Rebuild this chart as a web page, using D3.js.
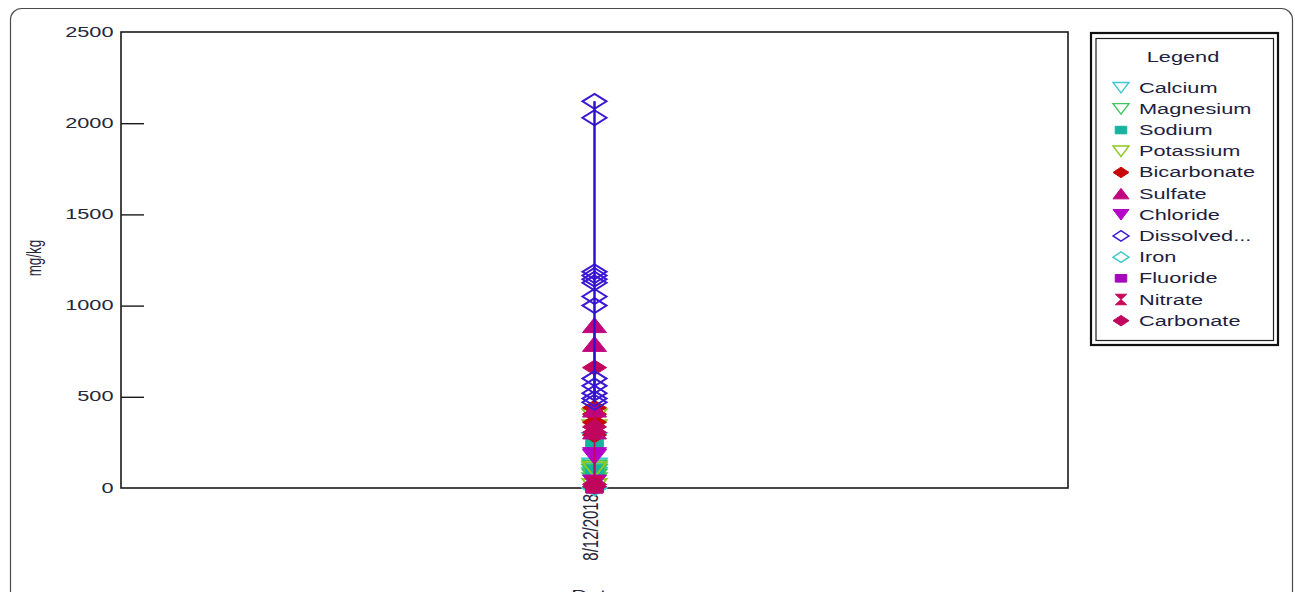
<!DOCTYPE html>
<html>
<head>
<meta charset="utf-8">
<script src="https://cdn.jsdelivr.net/npm/d3@7/dist/d3.min.js"></script>
<style>
  html, body { margin: 0; padding: 0; background: #fff; }
  svg { display: block; }
  text { font-family: "Liberation Sans", Arial, sans-serif; }
</style>
</head>
<body>
<svg id="chart" width="1295" height="592"></svg>
<script>
// Sample date and axis ticks
const sampleDates = ["8/12/2018"];
const yTicks = [0, 500, 1000, 1500, 2000, 2500];

// Parameter names in legend order
const seriesNames = ["Calcium", "Magnesium", "Sodium", "Potassium", "Bicarbonate", "Sulfate",
  "Chloride", "Dissolved...", "Iron", "Fluoride", "Nitrate", "Carbonate"];

// Measured concentrations (mg/kg) for each sample taken on that date
const calcium     = [260, 120, 95, 70];
const magnesium   = [110, 85, 60, 40];
const sodium      = [255, 230, 95, 80];
const potassium   = [390, 330, 100, 8];
const bicarbonate = [440, 405, 360, 290];
const sulfate     = [893, 790, 430, 310];
const chloride    = [180, 170, 30];
const dissolved   = [2120, 2030, 1185, 1165, 1145, 1125, 1050, 1000, 600, 560, 520, 490, 470];
const iron        = [2, 1];
const fluoride    = [3, 2];
const nitrate     = [25, 15];
const carbonate   = [660, 335, 305, 20, 8];

const seriesValues = [calcium, magnesium, sodium, potassium, bicarbonate, sulfate,
  chloride, dissolved, iron, fluoride, nitrate, carbonate];

// Marker styling per parameter
const seriesStyle = [
  { shape: "triDown", color: "#3ec6d2", open: true },
  { shape: "triDown", color: "#3ec85a", open: true },
  { shape: "square",  color: "#16b49e", open: false },
  { shape: "triDown", color: "#8ec823", open: true },
  { shape: "diamond", color: "#c80808", open: false },
  { shape: "triUp",   color: "#c0067e", open: false },
  { shape: "triDown", color: "#b404c8", open: false },
  { shape: "diamond", color: "#3c18d4", open: true },
  { shape: "diamond", color: "#3ec8c8", open: true },
  { shape: "square",  color: "#a408bc", open: false },
  { shape: "hourglass", color: "#c8085a", open: false },
  { shape: "diamond", color: "#c0065c", open: false }
];

const series = seriesNames.map((name, i) => ({
  name, values: seriesValues[i], ...seriesStyle[i]
}));

function shapePath(shape, w, h) {
  const a = w / 2, b = h / 2;
  switch (shape) {
    case "triDown": return `M${-a},${-b}L${a},${-b}L0,${b}Z`;
    case "triUp": return `M${-a},${b}L${a},${b}L0,${-b}Z`;
    case "square": { const s = a * 0.72, t = b * 0.72; return `M${-s},${-t}L${s},${-t}L${s},${t}L${-s},${t}Z`; }
    case "diamond": return `M0,${-b}L${a},0L0,${b}L${-a},0Z`;
    case "hourglass": { const s = a * 0.7; return `M${-s},${-b}L${s},${-b}L0,0L${s},${b}L${-s},${b}L0,0Z`; }
  }
}

const svg = d3.select("#chart");
const SX = 1.5; // horizontal stretch of the lettering

// Outer rounded frame
svg.append("rect")
  .attr("x", 10.5).attr("y", 8.5).attr("width", 1282).attr("height", 640)
  .attr("rx", 11).attr("fill", "none").attr("stroke", "#4a4a4a").attr("stroke-width", 1.2);

const plot = { left: 121, right: 1068, top: 32, bottom: 488 };

const x = d3.scalePoint().domain(sampleDates).range([plot.left, plot.right]).padding(0.5);
const y = d3.scaleLinear().domain([0, 2500]).range([plot.bottom, plot.top]);

// Plot frame
svg.append("rect")
  .attr("x", plot.left).attr("y", plot.top)
  .attr("width", plot.right - plot.left).attr("height", plot.bottom - plot.top)
  .attr("fill", "none").attr("stroke", "#1a1a1a").attr("stroke-width", 1.6);

// Y axis with inward ticks
const yAxis = svg.append("g")
  .attr("transform", `translate(${plot.left},0)`)
  .call(d3.axisLeft(y).tickValues(yTicks).tickSize(-23).tickPadding(5).tickFormat(d3.format("d")));
yAxis.select(".domain").remove();
yAxis.selectAll(".tick line")
  .attr("stroke", "#1a1a1a").attr("stroke-width", 1.4)
  .attr("display", d => (d === 0 || d === 2500) ? "none" : null);
yAxis.selectAll(".tick text")
  .attr("fill", "#26263a").attr("font-size", 14.5)
  .attr("dy", "0.28em")
  .attr("transform", `scale(${SX},1)`);

// Y axis title
svg.append("text")
  .attr("transform", `translate(41,258) rotate(-90) scale(1,${SX})`)
  .attr("text-anchor", "middle").attr("font-size", 13.5).attr("fill", "#26263a")
  .text("mg/kg");

// X axis (date labels, rotated)
const xAxis = svg.append("g")
  .attr("transform", `translate(0,${plot.bottom})`)
  .call(d3.axisBottom(x).tickSize(0).tickPadding(0));
xAxis.select(".domain").remove();
xAxis.selectAll(".tick text")
  .attr("fill", "#26263a").attr("font-size", 15)
  .attr("text-anchor", "end").attr("dy", null).attr("y", 0)
  .attr("transform", `translate(3,6) rotate(-90) scale(1,${SX})`);

// X axis title (largely below the visible area)
svg.append("text")
  .attr("transform", `translate(595,600) scale(${SX},1)`)
  .attr("text-anchor", "middle").attr("font-size", 15).attr("fill", "#26263a")
  .text("Date");

// Series lines and markers
const marks = svg.append("g");
const W = 24, H = 15;
const drawOrder = [0, 1, 2, 3, 4, 5, 6, 8, 9, 10, 11, 7];

drawOrder.forEach(i => {
  const s = series[i];
  if (s.values.length > 1) {
    const ext = d3.extent(s.values);
    marks.append("line")
      .attr("x1", x(sampleDates[0])).attr("x2", x(sampleDates[0]))
      .attr("y1", y(ext[0])).attr("y2", y(ext[1]))
      .attr("stroke", s.color).attr("stroke-width", 2);
  }
  marks.selectAll(null)
    .data(s.values)
    .join("path")
    .attr("transform", d => `translate(${x(sampleDates[0])},${y(d)})`)
    .attr("d", shapePath(s.shape, W, H))
    .attr("fill", s.open ? "none" : s.color)
    .attr("stroke", s.color)
    .attr("stroke-width", s.open ? 2 : 1);
});

// Dissolved line kept on top
{
  const s = series[7];
  const ext = d3.extent(s.values);
  marks.append("line")
    .attr("x1", x(sampleDates[0])).attr("x2", x(sampleDates[0]))
    .attr("y1", y(ext[0])).attr("y2", y(ext[1]))
    .attr("stroke", "#2a10d0").attr("stroke-width", 2);
}

// Legend
const lg = svg.append("g");
lg.append("rect").attr("x", 1091).attr("y", 33).attr("width", 187).attr("height", 312)
  .attr("fill", "#fff").attr("stroke", "#111").attr("stroke-width", 2.2);
lg.append("rect").attr("x", 1096).attr("y", 38.5).attr("width", 177.5).attr("height", 302)
  .attr("fill", "none").attr("stroke", "#222").attr("stroke-width", 1.2);
lg.append("text")
  .attr("transform", `translate(1183,61.5) scale(${SX},1)`)
  .attr("text-anchor", "middle").attr("font-size", 14.5).attr("fill", "#1e1e40")
  .text("Legend");

const rows = lg.selectAll("g.item")
  .data(series)
  .join("g")
  .attr("class", "item")
  .attr("transform", (d, i) => `translate(0,${87.7 + i * 21.18})`);
rows.append("path")
  .attr("transform", "translate(1121,0)")
  .attr("d", d => shapePath(d.shape, 16, 10.5))
  .attr("fill", d => d.open ? "none" : d.color)
  .attr("stroke", d => d.color)
  .attr("stroke-width", d => d.open ? 1.4 : 1);
rows.append("text")
  .attr("transform", `translate(1139,5) scale(${SX},1)`)
  .attr("font-size", 14.5).attr("fill", "#1e1e40")
  .text(d => d.name);
</script>
</body>
</html>
